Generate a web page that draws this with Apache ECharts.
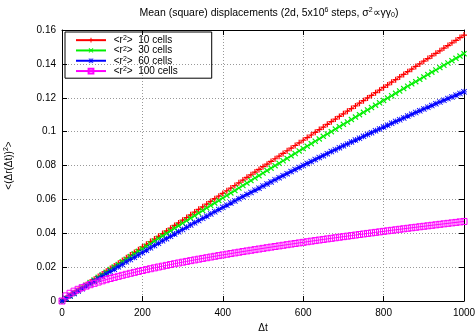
<!DOCTYPE html>
<html>
<head>
<meta charset="utf-8">
<script src="https://cdn.jsdelivr.net/npm/echarts@6/dist/echarts.min.js"></script>
<style>html,body{margin:0;padding:0;background:#fff;}#c{width:476px;height:333px;}</style>
</head>
<body>
<div id="c"></div>
<script>
var dt = [0,10,20,30,40,50,60,70,80,90,100,110,120,130,140,150,160,170,180,190,200,210,220,230,240,250,260,270,280,290,300,310,320,330,340,350,360,370,380,390,400,410,420,430,440,450,460,470,480,490,500,510,520,530,540,550,560,570,580,590,600,610,620,630,640,650,660,670,680,690,700,710,720,730,740,750,760,770,780,790,800,810,820,830,840,850,860,870,880,890,900,910,920,930,940,950,960,970,980,990,1000];

var cells10 = [0,0.0016,0.0032,0.0048,0.0064,0.0080,0.0096,0.0112,0.0128,0.0144,0.0160,0.0176,0.0192,0.0207,0.0223,0.0239,0.0255,0.0271,0.0287,0.0303,0.0319,0.0335,0.0351,0.0366,0.0382,0.0398,0.0414,0.0430,0.0446,0.0461,0.0477,0.0493,0.0509,0.0525,0.0541,0.0556,0.0572,0.0588,0.0604,0.0619,0.0635,0.0651,0.0667,0.0682,0.0698,0.0714,0.0730,0.0745,0.0761,0.0777,0.0793,0.0808,0.0824,0.0840,0.0855,0.0871,0.0887,0.0902,0.0918,0.0934,0.0949,0.0965,0.0980,0.0996,0.1012,0.1027,0.1043,0.1059,0.1074,0.1090,0.1105,0.1121,0.1136,0.1152,0.1168,0.1183,0.1199,0.1214,0.1230,0.1245,0.1261,0.1276,0.1292,0.1307,0.1323,0.1338,0.1354,0.1369,0.1385,0.1400,0.1416,0.1431,0.1447,0.1462,0.1477,0.1493,0.1508,0.1524,0.1539,0.1555,0.1570];

var cells30 = [0,0.0016,0.0031,0.0047,0.0062,0.0078,0.0093,0.0109,0.0124,0.0140,0.0155,0.0170,0.0186,0.0201,0.0216,0.0232,0.0247,0.0262,0.0278,0.0293,0.0308,0.0323,0.0338,0.0354,0.0369,0.0384,0.0399,0.0414,0.0429,0.0444,0.0459,0.0474,0.0489,0.0504,0.0519,0.0534,0.0549,0.0564,0.0578,0.0593,0.0608,0.0623,0.0638,0.0652,0.0667,0.0682,0.0696,0.0711,0.0726,0.0740,0.0755,0.0770,0.0784,0.0799,0.0813,0.0828,0.0842,0.0857,0.0871,0.0886,0.0900,0.0914,0.0929,0.0943,0.0957,0.0972,0.0986,0.1000,0.1015,0.1029,0.1043,0.1057,0.1071,0.1086,0.1100,0.1114,0.1128,0.1142,0.1156,0.1170,0.1184,0.1198,0.1212,0.1226,0.1240,0.1254,0.1268,0.1282,0.1295,0.1309,0.1323,0.1337,0.1351,0.1364,0.1378,0.1392,0.1405,0.1419,0.1433,0.1446,0.1460];

var cells60 = [0,0.0015,0.0030,0.0044,0.0059,0.0073,0.0088,0.0102,0.0117,0.0131,0.0146,0.0160,0.0174,0.0188,0.0202,0.0216,0.0231,0.0245,0.0258,0.0272,0.0286,0.0300,0.0314,0.0327,0.0341,0.0355,0.0368,0.0382,0.0395,0.0409,0.0422,0.0435,0.0449,0.0462,0.0475,0.0488,0.0501,0.0514,0.0527,0.0540,0.0553,0.0566,0.0578,0.0591,0.0604,0.0616,0.0629,0.0641,0.0654,0.0666,0.0679,0.0691,0.0703,0.0716,0.0728,0.0740,0.0752,0.0764,0.0776,0.0788,0.0800,0.0812,0.0823,0.0835,0.0847,0.0858,0.0870,0.0882,0.0893,0.0905,0.0916,0.0927,0.0939,0.0950,0.0961,0.0972,0.0983,0.0994,0.1005,0.1016,0.1027,0.1038,0.1049,0.1060,0.1070,0.1081,0.1092,0.1102,0.1113,0.1123,0.1134,0.1144,0.1154,0.1165,0.1175,0.1185,0.1195,0.1205,0.1215,0.1225,0.1235];

var cells100 = [0,0.00302,0.00456,0.00581,0.00690,0.00788,0.00878,0.00963,0.01042,0.01118,0.01191,0.01260,0.01328,0.01392,0.01455,0.01516,0.01576,0.01634,0.01690,0.01746,0.01800,0.01853,0.01905,0.01956,0.02007,0.02056,0.02105,0.02152,0.02200,0.02246,0.02292,0.02337,0.02382,0.02426,0.02469,0.02513,0.02555,0.02597,0.02639,0.02680,0.02721,0.02761,0.02801,0.02841,0.02880,0.02919,0.02957,0.02995,0.03033,0.03070,0.03108,0.03145,0.03181,0.03217,0.03253,0.03289,0.03325,0.03360,0.03395,0.03430,0.03464,0.03499,0.03533,0.03567,0.03600,0.03634,0.03667,0.03700,0.03733,0.03765,0.03798,0.03830,0.03862,0.03894,0.03926,0.03957,0.03989,0.04020,0.04051,0.04082,0.04112,0.04143,0.04173,0.04203,0.04234,0.04263,0.04293,0.04323,0.04352,0.04382,0.04411,0.04440,0.04469,0.04498,0.04527,0.04556,0.04584,0.04612,0.04641,0.04669,0.04697];

var seriesNames = ['10 cells', '30 cells', '60 cells', '100 cells'];
var xTicks = [0, 200, 400, 600, 800, 1000];
var yTicks = [0, 0.02, 0.04, 0.06, 0.08, 0.1, 0.12, 0.14, 0.16];

var FONT = '"Liberation Sans", Arial, Helvetica, sans-serif';
var colors = ['#ff0000', '#00f000', '#0000ff', '#ff00ff'];
var SYM_PLUS = 'path://M4,0H6V4H10V6H6V10H4V6H0V4H4Z';
var SYM_CROSS = 'path://M1.4,0L5,3.6L8.6,0L10,1.4L6.4,5L10,8.6L8.6,10L5,6.4L1.4,10L0,8.6L3.6,5L0,1.4Z';
var SYM_STAR = 'path://M4.3,0H5.7V4.3H10V5.7H5.7V10H4.3V5.7H0V4.3H4.3Z M1,0L5,4L9,0L10,1L6,5L10,9L9,10L5,6L1,10L0,9L4,5L0,1Z';

function pairs(ys) { return dt.map(function (x, i) { return [x, ys[i]]; }); }

var allData = [cells10, cells30, cells60, cells100];
var symbols = [SYM_PLUS, SYM_CROSS, SYM_STAR, 'rect'];

var series = allData.map(function (ys, i) {
  var isSq = i === 3;
  return {
    name: seriesNames[i],
    type: 'line',
    xAxisIndex: 0,
    yAxisIndex: 0,
    data: pairs(ys),
    symbol: symbols[i],
    symbolSize: 6,
    showSymbol: true,
    lineStyle: { color: colors[i], width: 1 },
    itemStyle: isSq ? { color: 'rgba(0,0,0,0)', borderColor: colors[i], borderWidth: 1 } : { color: colors[i], borderWidth: 0 },
    emphasis: { disabled: true },
    animation: false
  };
});

var baseLabel = { fontFamily: FONT, fontSize: 10, color: '#000' };

var chart = echarts.init(document.getElementById('c'), null, { renderer: 'canvas' });
chart.setOption({
  backgroundColor: '#fff',
  animation: false,
  title: {
    text: 'Mean (square) displacements (2d, 5x10{sup|6} steps, σ{sup|2}∝γγ{sub|0})',
    left: 264,
    textAlign: 'center',
    top: 2,
    textStyle: {
      fontFamily: FONT, fontSize: 10.5, fontWeight: 'normal', color: '#000',
      rich: {
        sup: { fontFamily: FONT, fontSize: 7, color: '#000', padding: [0, 0, 6, 0] },
        sub: { fontFamily: FONT, fontSize: 7, color: '#000', padding: [4, 0, 0, 0] }
      }
    }
  },
  legend: {
    orient: 'vertical',
    left: 65,
    top: 32,
    padding: [3, 34, 2, 10],
    borderColor: '#000',
    borderWidth: 1,
    itemWidth: 30,
    itemHeight: 6,
    itemGap: 0,
    selectedMode: false,
    data: seriesNames,
    formatter: function (n) { return ' {a|<r}{s|2}{a|>}  {a|' + n + '}'; },
    textStyle: {
      fontFamily: FONT, fontSize: 10, color: '#000', lineHeight: 10.3,
      rich: {
        a: { fontFamily: FONT, fontSize: 10, color: '#000', lineHeight: 10.3 },
        s: { fontFamily: FONT, fontSize: 7, color: '#000', lineHeight: 7, verticalAlign: 'top' }
      }
    }
  },
  grid: { left: 62, right: 12, top: 30, bottom: 32, containLabel: false, outerBoundsMode: 'none' },
  xAxis: [{
    type: 'value', position: 'bottom', min: xTicks[0], max: xTicks[xTicks.length - 1], interval: xTicks[1] - xTicks[0],
    name: 'Δt', nameLocation: 'middle', nameGap: 15,
    nameTextStyle: baseLabel,
    axisLine: { show: true, onZero: false, lineStyle: { color: '#000', width: 1 } },
    axisTick: { show: true, inside: true, length: 5, lineStyle: { color: '#000' } },
    axisLabel: Object.assign({ margin: 7, formatter: function (v) { return String(v); } }, baseLabel),
    splitLine: { show: true, lineStyle: { color: '#999', type: [1, 2], width: 1 } }
  }, {
    type: 'value', position: 'top', min: xTicks[0], max: xTicks[xTicks.length - 1], interval: xTicks[1] - xTicks[0],
    axisLine: { show: true, onZero: false, lineStyle: { color: '#000', width: 1 } },
    axisTick: { show: true, inside: true, length: 5, lineStyle: { color: '#000' } },
    axisLabel: { show: false },
    splitLine: { show: false }
  }],
  yAxis: [{
    type: 'value', position: 'left', min: yTicks[0], max: yTicks[yTicks.length - 1], interval: 0.02,
    name: '<(Δr(Δt)){sup|2}>', nameLocation: 'middle', nameGap: 46, nameRotate: 90,
    nameTextStyle: Object.assign({ rich: { sup: { fontFamily: FONT, fontSize: 7, color: '#000', padding: [0, 0, 6, 0] } } }, baseLabel),
    axisLine: { show: true, onZero: false, lineStyle: { color: '#000', width: 1 } },
    axisTick: { show: true, inside: true, length: 5, lineStyle: { color: '#000' } },
    axisLabel: Object.assign({ margin: 6 }, baseLabel),
    splitLine: { show: true, lineStyle: { color: '#999', type: [1, 2], width: 1 } }
  }, {
    type: 'value', position: 'right', min: yTicks[0], max: yTicks[yTicks.length - 1], interval: 0.02,
    axisLine: { show: true, onZero: false, lineStyle: { color: '#000', width: 1 } },
    axisTick: { show: true, inside: true, length: 5, lineStyle: { color: '#000' } },
    axisLabel: { show: false },
    splitLine: { show: false }
  }],
  series: series
});
</script>
</body>
</html>
